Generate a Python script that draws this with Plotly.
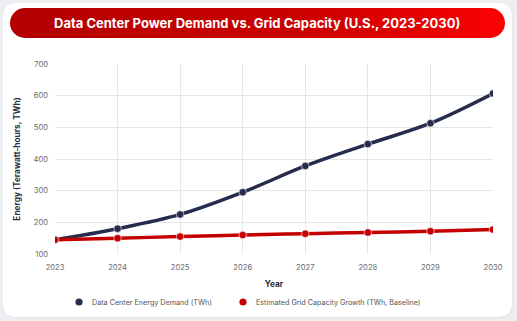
import base64
import plotly.graph_objects as go

# Annual energy figures for U.S. data centers vs. grid capacity growth
years = [2023, 2024, 2025, 2026, 2027, 2028, 2029, 2030]
demand_twh = [145, 180, 225, 295, 378, 447, 513, 607]
grid_twh = [145, 150, 155, 160, 164, 168, 172, 177]

demand_name = "Data Center Energy Demand (TWh)"
grid_name = "Estimated Grid Capacity Growth (TWh, Baseline)"
title_text = "Data Center Power Demand vs. Grid Capacity (U.S., 2023-2030)"

W, H = 517, 321
ML, MR, MT, MB = 55, 24, 64, 67
PW, PH = W - ML - MR, H - MT - MB

NAVY = "#262c4d"
RED = "#c40000"
FONT = "Inter, Roboto, sans-serif"


def px_x(px):
    return (px - ML) / PW


def px_y(py):
    return 1 - (py - MT) / PH


def rounded_rect(x0, y0, x1, y1, r):
    # path in paper coordinates for a rectangle given in pixels
    X = lambda v: px_x(v)
    Y = lambda v: px_y(v)
    return (
        f"M {X(x0 + r)} {Y(y0)} L {X(x1 - r)} {Y(y0)} "
        f"Q {X(x1)} {Y(y0)} {X(x1)} {Y(y0 + r)} L {X(x1)} {Y(y1 - r)} "
        f"Q {X(x1)} {Y(y1)} {X(x1 - r)} {Y(y1)} L {X(x0 + r)} {Y(y1)} "
        f"Q {X(x0)} {Y(y1)} {X(x0)} {Y(y1 - r)} L {X(x0)} {Y(y0 + r)} "
        f"Q {X(x0)} {Y(y0)} {X(x0 + r)} {Y(y0)} Z"
    )


def dot(cx, cy, r, color):
    return dict(type="circle", xref="paper", yref="paper", layer="above",
                x0=px_x(cx - r), x1=px_x(cx + r), y0=px_y(cy + r), y1=px_y(cy - r),
                fillcolor=color, line=dict(width=0))


# Gradient pill behind the title
pill_x0, pill_y0, pill_x1, pill_y1 = 10, 8, 505, 38
pw, ph = pill_x1 - pill_x0, pill_y1 - pill_y0
pill_svg = (
    f'<svg xmlns="http://www.w3.org/2000/svg" width="{pw}" height="{ph}" '
    f'viewBox="0 0 {pw} {ph}" preserveAspectRatio="none">'
    '<defs><linearGradient id="g" x1="0" y1="0" x2="1" y2="0">'
    '<stop offset="0" stop-color="#b30000"/>'
    '<stop offset="0.6" stop-color="#cc0000"/>'
    '<stop offset="1" stop-color="#fa0202"/>'
    '</linearGradient></defs>'
    f'<rect x="0" y="0" width="{pw}" height="{ph}" rx="{ph/2}" ry="{ph/2}" fill="url(#g)"/>'
    '</svg>'
)
pill_src = "data:image/svg+xml;base64," + base64.b64encode(pill_svg.encode()).decode()

fig = go.Figure()

fig.add_trace(go.Scatter(
    x=years, y=demand_twh, name=demand_name, mode="lines+markers",
    line=dict(color=NAVY, width=3.5, shape="spline", smoothing=1.0),
    marker=dict(color=NAVY, size=7.5, line=dict(color="rgba(255,255,255,0.6)", width=1)),
    showlegend=False,
))
fig.add_trace(go.Scatter(
    x=years, y=grid_twh, name=grid_name, mode="lines+markers",
    line=dict(color=RED, width=3.5, shape="spline", smoothing=1.0),
    marker=dict(color=RED, size=7.5, line=dict(color="rgba(255,255,255,0.6)", width=1)),
    showlegend=False,
))

legend_y = 302
legend_font = dict(size=7.2, color="#555", family=FONT)

fig.update_layout(
    width=W, height=H,
    margin=dict(l=ML, r=MR, t=MT, b=MB, autoexpand=False),
    paper_bgcolor="#eceef1",
    plot_bgcolor="white",
    font=dict(family=FONT, color="#555"),
    showlegend=False,
    xaxis=dict(
        range=[2023, 2030], tickvals=years, ticktext=[str(y) for y in years],
        showgrid=True, gridcolor="#e6e6e6", gridwidth=1, zeroline=False,
        showline=False, tickfont=dict(size=7.6, color="#6b6b6b"), ticks="",
        ticklabelstandoff=7,
        title=dict(text="<b>Year</b>", font=dict(size=8.3, color="#2b2f42"), standoff=10),
        automargin=False,
    ),
    yaxis=dict(
        range=[100, 700], tickvals=[100, 200, 300, 400, 500, 600, 700],
        showgrid=True, gridcolor="#e6e6e6", gridwidth=1, zeroline=False,
        showline=False, tickfont=dict(size=7.6, color="#6b6b6b"), ticks="",
        ticklabelstandoff=6,
        title=dict(text="<b>Energy (Terawatt-hours, TWh)</b>",
                   font=dict(size=8.3, color="#2b2f42"), standoff=11),
        automargin=False,
    ),
    shapes=[
        # card shadow and card
        dict(type="path", xref="paper", yref="paper", layer="below",
             path=rounded_rect(3, 3.5, 513, 318, 14),
             fillcolor="#e2e4e8", line=dict(width=0)),
        dict(type="path", xref="paper", yref="paper", layer="below",
             path=rounded_rect(3, 3, 512, 317, 14),
             fillcolor="white", line=dict(width=0)),
        # legend dots
        dot(79, legend_y, 3.6, NAVY),
        dot(243, legend_y, 3.6, RED),
    ],
    images=[dict(
        source=pill_src, xref="paper", yref="paper",
        x=px_x(pill_x0), y=px_y(pill_y0), sizex=pw / PW, sizey=ph / PH,
        xanchor="left", yanchor="top", sizing="stretch", layer="above",
    )],
    annotations=[
        dict(text=f"<b>{title_text}</b>", xref="paper", yref="paper",
             x=px_x(257), y=px_y(23), xanchor="center", yanchor="middle",
             showarrow=False, font=dict(size=13, color="white", family=FONT)),
        dict(text=demand_name, xref="paper", yref="paper",
             x=px_x(90), y=px_y(legend_y), xanchor="left", yanchor="middle",
             showarrow=False, font=legend_font),
        dict(text=grid_name, xref="paper", yref="paper",
             x=px_x(254), y=px_y(legend_y), xanchor="left", yanchor="middle",
             showarrow=False, font=legend_font),
    ],
)

fig.write_html("out.html")
